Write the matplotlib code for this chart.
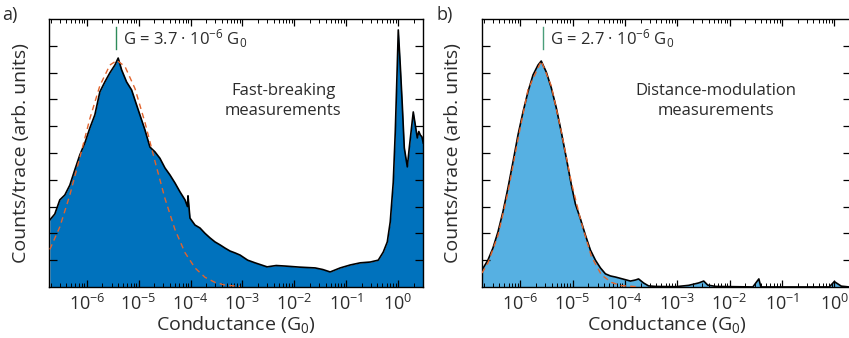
import numpy as np
import matplotlib
matplotlib.use("Agg")
import matplotlib.pyplot as plt
from matplotlib.ticker import LogLocator, FixedLocator, NullFormatter, FuncFormatter

plt.rcParams["font.family"] = ["Open Sans", "DejaVu Sans"]
plt.rcParams["mathtext.fontset"] = "custom"
plt.rcParams["mathtext.rm"] = "Open Sans"
plt.rcParams["mathtext.it"] = "Open Sans"
plt.rcParams["mathtext.bf"] = "Open Sans"

# ---- panel a: fast-breaking histogram (log10 G, counts) ----
log_g_a = [-6.714, -6.618, -6.521, -6.425, -6.328, -6.232, -6.135, -6.039, -5.942, -5.846,
           -5.749, -5.653, -5.556, -5.459, -5.396, -5.330, -5.234, -5.137, -5.041, -4.977,
           -4.880, -4.784, -4.687, -4.591, -4.494, -4.398, -4.301, -4.205, -4.108, -4.060,
           -4.050, -4.012, -3.915, -3.819, -3.722, -3.625, -3.529, -3.432, -3.336, -3.239,
           -3.143, -3.046, -2.900, -2.757, -2.525, -2.350, -2.178, -1.900, -1.598, -1.450,
           -1.309, -1.116, -0.923, -0.730, -0.537, -0.382, -0.286, -0.208, -0.151, -0.093,
           -0.054, -0.015, 0.004, 0.042, 0.081, 0.120, 0.178, 0.216, 0.293, 0.332,
           0.371, 0.400, 0.429, 0.460, 0.486]
counts_a = [0.250, 0.272, 0.325, 0.343, 0.380, 0.437, 0.493, 0.537, 0.593, 0.642,
            0.728, 0.765, 0.799, 0.828, 0.854, 0.810, 0.765, 0.735, 0.679, 0.642,
            0.586, 0.522, 0.504, 0.480, 0.444, 0.418, 0.388, 0.355, 0.325, 0.300,
            0.340, 0.257, 0.231, 0.220, 0.200, 0.183, 0.168, 0.157, 0.145, 0.134,
            0.127, 0.119, 0.100, 0.090, 0.075, 0.080, 0.078, 0.074, 0.071, 0.065,
            0.056, 0.071, 0.082, 0.090, 0.093, 0.100, 0.130, 0.168, 0.243, 0.390,
            0.578, 0.828, 0.959, 0.828, 0.680, 0.519, 0.448, 0.519, 0.653, 0.604,
            0.556, 0.580, 0.567, 0.560, 0.537]

log_fit_a = [-6.714, -6.521, -6.328, -6.135, -5.942, -5.749, -5.556, -5.421, -5.266, -5.072,
             -4.880, -4.687, -4.494, -4.301, -4.108, -3.915, -3.722, -3.529, -3.336, -3.046]
fit_a = [0.140, 0.224, 0.343, 0.483, 0.628, 0.751, 0.828, 0.845, 0.823, 0.740,
         0.614, 0.469, 0.330, 0.214, 0.128, 0.071, 0.036, 0.017, 0.007, 0.002]

# ---- panel b: distance-modulation histogram ----
log_g_b = [-6.730, -6.617, -6.521, -6.425, -6.330, -6.234, -6.138, -6.042, -5.946, -5.851,
           -5.755, -5.659, -5.598, -5.502, -5.406, -5.310, -5.215, -5.119, -5.023, -4.946,
           -4.851, -4.755, -4.659, -4.563, -4.467, -4.372, -4.276, -4.180, -4.046, -3.893,
           -3.797, -3.739, -3.644, -3.548, -3.414, -3.030, -2.782, -2.590, -2.494, -2.418,
           -2.264, -1.556, -1.441, -1.402, -0.096, 0.000, 0.134, 0.287]
counts_b = [0.063, 0.100, 0.145, 0.205, 0.280, 0.369, 0.466, 0.567, 0.653, 0.728,
            0.791, 0.828, 0.843, 0.802, 0.743, 0.668, 0.578, 0.481, 0.381, 0.310,
            0.255, 0.194, 0.138, 0.100, 0.071, 0.049, 0.041, 0.037, 0.030, 0.022,
            0.026, 0.030, 0.015, 0.004, 0.002, 0.001, 0.006, 0.015, 0.022, 0.007,
            0.002, 0.000, 0.030, 0.000, 0.000, 0.020, 0.003, 0.000]

log_fit_b = [-6.730, -6.617, -6.425, -6.234, -6.042, -5.851, -5.598, -5.406, -5.215, -5.023,
             -4.832, -4.640, -4.448, -4.257, -4.065, -3.700]
fit_b = [0.052, 0.089, 0.192, 0.353, 0.552, 0.736, 0.843, 0.750, 0.580, 0.390,
         0.240, 0.114, 0.045, 0.017, 0.005, 0.000]

decades = [1e-6, 1e-5, 1e-4, 1e-3, 1e-2, 1e-1, 1e0]
peak_a = 3.7e-6
peak_b = 2.7e-6

text_col = "#2b2b2b"


def style_axis(ax, xmax_log):
    ax.set_xscale("log")
    ax.set_xlim(10 ** -6.73, 10 ** xmax_log)
    ax.set_ylim(0, 1)
    ax.xaxis.set_major_locator(FixedLocator(decades))
    ax.xaxis.set_minor_locator(LogLocator(base=10, subs=np.arange(2, 10), numticks=20))
    ax.xaxis.set_minor_formatter(NullFormatter())
    ax.xaxis.set_major_formatter(FuncFormatter(lambda v, _: "10$^{%d}$" % int(round(np.log10(v)))))
    ax.yaxis.set_major_locator(FixedLocator(np.arange(0.1, 0.95, 0.1)))
    ax.yaxis.set_major_formatter(NullFormatter())
    ax.tick_params(axis="both", which="both", direction="in", top=True, right=True,
                   colors="black", labelcolor=text_col)
    ax.tick_params(axis="x", which="major", length=5, width=0.9, labelsize=13, pad=5)
    ax.tick_params(axis="x", which="minor", length=3, width=0.7)
    ax.tick_params(axis="y", which="major", length=6, width=0.9)
    for s in ax.spines.values():
        s.set_linewidth(1.0)
    ax.set_xlabel("Conductance (G$_0$)", fontsize=14, color=text_col)
    ax.xaxis.set_label_coords(0.5, -0.1)
    ax.set_ylabel("Counts/trace (arb. units)", fontsize=14, color=text_col)


fig = plt.figure(figsize=(8.49, 3.38), dpi=100)
ax_a = fig.add_axes([0.0577, 0.151, 0.4405, 0.793])
ax_b = fig.add_axes([0.5677, 0.151, 0.4347, 0.793])

# panel a
ga = 10 ** np.array(log_g_a)
ax_a.fill_between(ga, counts_a, 0, color="#0072BD", lw=0, zorder=1)
ax_a.plot(ga, counts_a, color="black", lw=1.2, zorder=2)
ax_a.plot(10 ** np.array(log_fit_a), fit_a, color="#E2642D", lw=1.0,
          dashes=(4, 3), zorder=3)
style_axis(ax_a, 0.48)
ax_a.yaxis.set_label_coords(-0.051, 0.5)
ax_a.plot([peak_a, peak_a], [0.888, 0.97], color="#2E8B5A", lw=1.0, zorder=4)
ax_a.text(10 ** (np.log10(peak_a) + 0.13), 0.925, "G = 3.7 · 10$^{-6}$ G$_0$",
          fontsize=12, color=text_col, va="center", ha="left")
ax_a.text(0.626, 0.694, "Fast-breaking\nmeasurements", transform=ax_a.transAxes,
          fontsize=12, color=text_col, ha="center", va="center", linespacing=1.3)

# panel b
gb = 10 ** np.array(log_g_b)
ax_b.fill_between(gb, counts_b, 0, color="#56B0E2", lw=0, zorder=1)
ax_b.plot(gb, counts_b, color="black", lw=1.2, zorder=2)
ax_b.plot(10 ** np.array(log_fit_b), fit_b, color="#E2642D", lw=1.0,
          dashes=(4, 3), zorder=3)
style_axis(ax_b, 0.32)
ax_b.yaxis.set_label_coords(-0.054, 0.5)
ax_b.plot([peak_b, peak_b], [0.888, 0.97], color="#4A9E7A", lw=1.0, zorder=4)
ax_b.text(10 ** (np.log10(peak_b) + 0.13), 0.925, "G = 2.7 · 10$^{-6}$ G$_0$",
          fontsize=12, color=text_col, va="center", ha="left")
ax_b.text(0.633, 0.694, "Distance-modulation\nmeasurements", transform=ax_b.transAxes,
          fontsize=12, color=text_col, ha="center", va="center", linespacing=1.3)

fig.text(0.002, 0.955, "a)", fontsize=13, color=text_col, va="center", ha="left")
fig.text(0.514, 0.955, "b)", fontsize=13, color=text_col, va="center", ha="left")

fig.savefig("out.png", dpi=100)
